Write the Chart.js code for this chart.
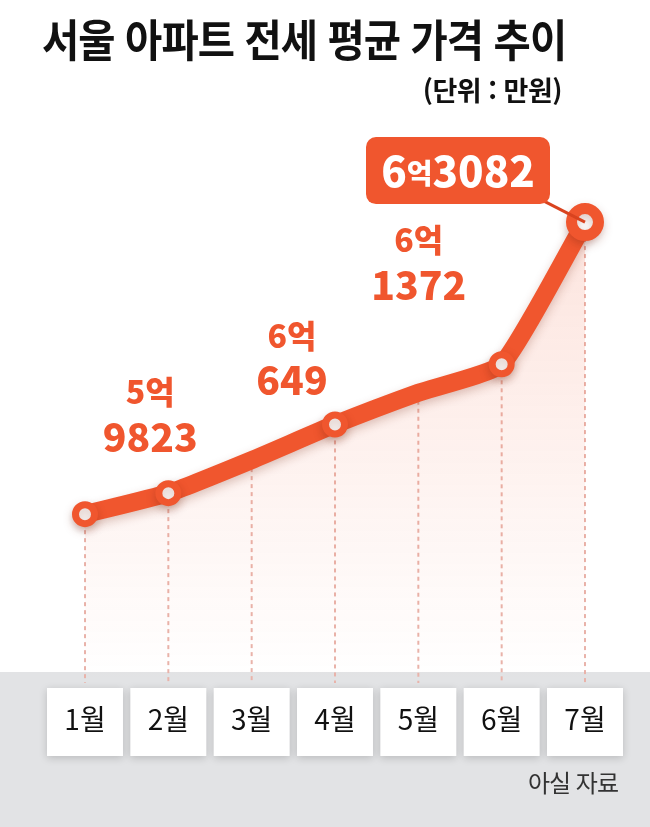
<!DOCTYPE html>
<html lang="ko">
<head>
<meta charset="utf-8">
<title>서울 아파트 전세 평균 가격 추이</title>
<script src="https://cdn.jsdelivr.net/npm/chart.js@4.4.1/dist/chart.umd.min.js"></script>
<style>
  html, body { margin: 0; padding: 0; background: #fff; }
  #wrap { position: relative; width: 650px; height: 827px; overflow: hidden; }
  #box { position: absolute; left: 0; top: 0; width: 650px; height: 827px; }
  .title {
    position: absolute; left: 42px; top: 6px;
    font: 700 44px "Noto Sans CJK KR", sans-serif; color: #111;
    white-space: nowrap; transform: scaleX(0.92); transform-origin: left top;
    letter-spacing: -1px;
  }
  .unit {
    position: absolute; right: 88px; top: 70px;
    font: 700 27px "Noto Sans CJK KR", sans-serif; color: #111;
    white-space: nowrap; letter-spacing: -0.5px;
  }
  .source {
    position: absolute; right: 32px; top: 764px;
    font: 400 24px "Noto Sans CJK KR", sans-serif; color: #333;
    white-space: nowrap; letter-spacing: -1px;
  }
</style>
</head>
<body>
<div id="wrap">
  <div id="box"><canvas id="chart"></canvas></div>
  <div class="title">서울 아파트 전세 평균 가격 추이</div>
  <div class="unit">(단위 : 만원)</div>
  <div class="source">아실 자료</div>
</div>
<script>
const months = ["1월", "2월", "3월", "4월", "5월", "6월", "7월"];
const prices = [59570, 59823, 60220, 60649, 61030, 61372, 63082];
const markerMonths = [0, 1, 3, 5, 6];
const labeledMonths = [1, 3, 5];
const calloutMonth = 6;

const ORANGE = "#f0562e";
const KR = '"Noto Sans CJK KR", sans-serif';

// label position relative to its point (style only)
const labelOffsets = { 1: [-18, -56], 3: [-43, -44], 5: [-83, -79] };

function splitPrice(v) {
  return [Math.floor(v / 10000) + "억", String(v % 10000)];
}

// gray band and white month boxes behind the x axis labels
const bandPlugin = {
  id: "band",
  beforeDraw(chart) {
    const ctx = chart.ctx;
    const x = chart.scales.x;
    ctx.save();
    ctx.fillStyle = "#e2e3e5";
    ctx.fillRect(0, 672, chart.width, chart.height - 672);
    ctx.shadowColor = "rgba(0,0,0,0.18)";
    ctx.shadowBlur = 8;
    ctx.shadowOffsetY = 2;
    ctx.fillStyle = "#fff";
    months.forEach((m, i) => {
      const cx = x.getPixelForTick(i);
      ctx.fillRect(cx - 38, 688, 76, 68);
    });
    ctx.restore();
  },
  beforeDatasetsDraw(chart) {
    // dotted drop lines
    const ctx = chart.ctx;
    const meta = chart.getDatasetMeta(0);
    ctx.save();
    ctx.strokeStyle = "#e9b3aa";
    ctx.lineWidth = 2;
    ctx.setLineDash([4, 4]);
    meta.data.forEach((pt) => {
      ctx.beginPath();
      ctx.moveTo(pt.x, pt.y);
      ctx.lineTo(pt.x, chart.chartArea.bottom);
      ctx.stroke();
    });
    ctx.restore();
  },
};

const shadowPlugin = {
  id: "lineShadow",
  beforeDatasetDraw(chart) {
    const ctx = chart.ctx;
    ctx.save();
    ctx.shadowColor = "rgba(120,40,20,0.25)";
    ctx.shadowBlur = 10;
    ctx.shadowOffsetY = 4;
  },
  afterDatasetDraw(chart) {
    chart.ctx.restore();
  },
};

const labelPlugin = {
  id: "valueLabels",
  afterDatasetsDraw(chart) {
    const ctx = chart.ctx;
    const meta = chart.getDatasetMeta(0);
    ctx.save();
    ctx.textAlign = "center";
    ctx.textBaseline = "middle";
    ctx.fillStyle = ORANGE;
    labeledMonths.forEach((i) => {
      const pt = meta.data[i];
      const [eok, rest] = splitPrice(prices[i]);
      const [dx, dy] = labelOffsets[i];
      ctx.font = "900 32px " + KR;
      ctx.fillText(eok, pt.x + dx, pt.y + dy - 45);
      ctx.font = "900 39px " + KR;
      ctx.fillText(rest, pt.x + dx, pt.y + dy);
    });

    // callout for the latest month
    const pt = meta.data[calloutMonth];
    const left = pt.x - 219, top = pt.y - 85, w = 184, h = 67;
    ctx.strokeStyle = "#d9431f";
    ctx.lineWidth = 3;
    ctx.beginPath();
    ctx.moveTo(left + w - 8, top + h - 4);
    ctx.lineTo(pt.x, pt.y);
    ctx.stroke();
    ctx.fillStyle = ORANGE;
    ctx.beginPath();
    ctx.roundRect(left, top, w, h, 10);
    ctx.fill();

    const [eok, rest] = splitPrice(prices[calloutMonth]);
    const big = "900 42px " + KR, small = "900 28px " + KR;
    const num = eok.slice(0, -1);
    ctx.font = big;
    const w1 = ctx.measureText(num).width;
    const w3 = ctx.measureText(rest).width;
    ctx.font = small;
    const w2 = ctx.measureText("억").width;
    let x0 = left + w / 2 - (w1 + w2 + w3) / 2;
    const cy = top + h / 2 + 1;
    ctx.fillStyle = "#fff";
    ctx.textAlign = "left";
    ctx.textBaseline = "alphabetic";
    ctx.font = big;
    ctx.fillText(num, x0, cy + 15);
    ctx.font = small;
    ctx.fillText("억", x0 + w1, cy + 12);
    ctx.font = big;
    ctx.fillText(rest, x0 + w1 + w2, cy + 15);
    ctx.restore();
  },
};

new Chart(document.getElementById("chart"), {
  type: "line",
  data: {
    labels: months,
    datasets: [
      {
        data: prices,
        borderColor: ORANGE,
        borderWidth: 18,
        borderCapStyle: "round",
        borderJoinStyle: "round",
        tension: 0.15,
        fill: "start",
        backgroundColor: (c) => {
          const area = c.chart.chartArea;
          if (!area) return "rgba(240,86,46,0.1)";
          const g = c.chart.ctx.createLinearGradient(0, 220, 0, area.bottom);
          g.addColorStop(0, "rgba(240,86,46,0.16)");
          g.addColorStop(1, "rgba(240,86,46,0)");
          return g;
        },
        pointRadius: months.map((m, i) =>
          i === calloutMonth ? 13.5 : markerMonths.includes(i) ? 9.5 : 0
        ),
        pointHoverRadius: months.map((m, i) =>
          i === calloutMonth ? 13.5 : markerMonths.includes(i) ? 9.5 : 0
        ),
        pointBorderWidth: months.map((m, i) => (i === calloutMonth ? 11 : 7)),
        pointBackgroundColor: "#fff",
        pointBorderColor: ORANGE,
        clip: false,
      },
    ],
  },
  options: {
    responsive: true,
    maintainAspectRatio: false,
    animation: false,
    layout: { padding: { top: 100, left: 85, right: 65, bottom: 0 } },
    plugins: {
      legend: { display: false },
      tooltip: { enabled: false },
    },
    scales: {
      x: {
        offset: false,
        grid: { display: false, drawTicks: false },
        border: { display: false },
        ticks: {
          padding: 20,
          color: "#111",
          font: { family: '"Liberation Sans Narrow", ' + KR, size: 28 },
        },
        afterFit: (scale) => {
          scale.height = 144;
        },
      },
      y: {
        display: false,
        min: 57540,
        max: 64550,
      },
    },
  },
  plugins: [bandPlugin, shadowPlugin, labelPlugin],
});
</script>
</body>
</html>
